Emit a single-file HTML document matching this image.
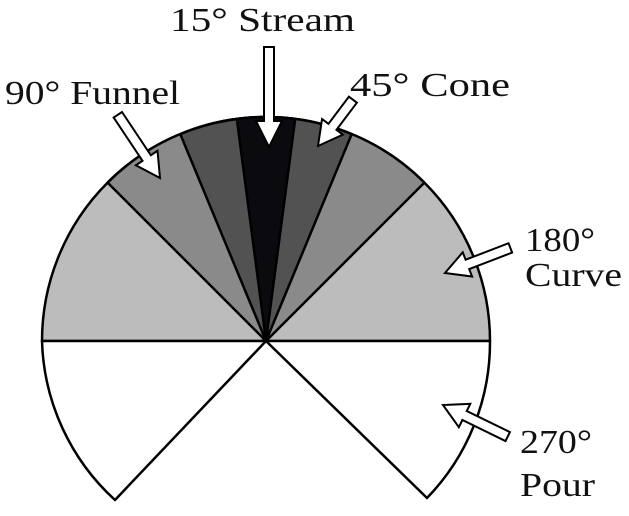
<!DOCTYPE html>
<html><head><style>
html,body{margin:0;padding:0;background:#fff;}
svg{display:block;}
text{font-family:"Liberation Serif",serif;font-size:34px;fill:#111;}
</style></head><body>
<svg width="629" height="516" viewBox="0 0 629 516" xmlns="http://www.w3.org/2000/svg">
<g stroke="#000" stroke-width="2.5" stroke-linejoin="round">
<path d="M266,341 L42,341 A224,224 0 0 1 490,341 Z" fill="#bcbcbc"/>
<path d="M266,341 L107.6,182.6 A224,224 0 0 1 424.4,182.6 Z" fill="#8a8a8a"/>
<path d="M266,341 L180.3,134.1 A224,224 0 0 1 351.7,134.1 Z" fill="#525252"/>
<path d="M266,341 L236.8,118.9 A224,224 0 0 1 295.2,118.9 Z" fill="#0a0a0f"/>
<path d="M266,341 L490,341 A224,224 0 0 1 427,498 Z" fill="#fff"/>
<path d="M266,341 L42,341 A224,224 0 0 0 115,500 Z" fill="#fff"/>
</g>
<g fill="#fff" stroke="#000" stroke-width="2">
<polygon points="264,47 274,47 274,121 282,121 269,147 256,121 264,121"/>
<polygon transform="translate(160,178) rotate(56.3)" points="-76,-5 -24,-5 -24,-13 0,0 -24,13 -24,5 -76,5"/>
<polygon transform="translate(318,146) rotate(127)" points="-58,-5 -24,-5 -24,-13 0,0 -24,13 -24,5 -58,5"/>
<polygon transform="translate(445,273) rotate(159)" points="-70,-5 -24,-5 -24,-13 0,0 -24,13 -24,5 -70,5"/>
<polygon transform="translate(443,405) rotate(206)" points="-72,-5 -24,-5 -24,-13 0,0 -24,13 -24,5 -72,5"/>
</g>
<text x="170" y="31" textLength="185" lengthAdjust="spacingAndGlyphs">15° Stream</text>
<text x="5" y="104" textLength="175" lengthAdjust="spacingAndGlyphs">90° Funnel</text>
<text x="350" y="96" textLength="160" lengthAdjust="spacingAndGlyphs">45° Cone</text>
<text x="525" y="251" textLength="70" lengthAdjust="spacingAndGlyphs">180°</text>
<text x="525" y="286" textLength="97" lengthAdjust="spacingAndGlyphs">Curve</text>
<text x="520" y="453" textLength="72" lengthAdjust="spacingAndGlyphs">270°</text>
<text x="520" y="496" textLength="75" lengthAdjust="spacingAndGlyphs">Pour</text>
</svg>
</body></html>
